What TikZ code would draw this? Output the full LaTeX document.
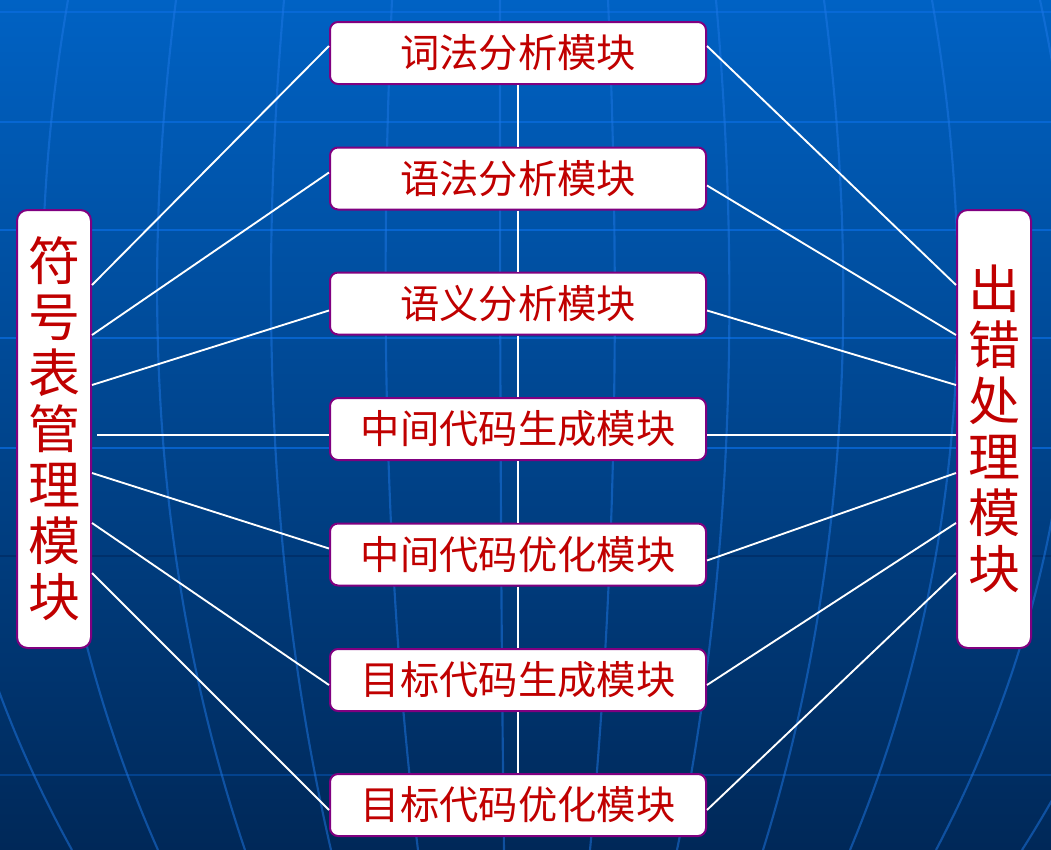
\documentclass[tikz,border=0pt]{standalone}
\usepackage{fontspec}
\newfontfamily\cjk{Noto Sans CJK SC}
\usetikzlibrary{calc}

\definecolor{bgtop}{RGB}{0,98,196}
\definecolor{bgbot}{RGB}{0,40,88}
\definecolor{gridblue}{RGB}{30,120,230}
\definecolor{latblue}{RGB}{10,108,222}
\definecolor{latdark}{RGB}{0,40,95}
\definecolor{boxline}{RGB}{128,0,128}
\definecolor{boxtext}{RGB}{192,0,0}

\tikzset{every picture/.style={line width=0.75pt}}
\tikzset{
  modbox/.style={draw=boxline, line width=1.5pt, fill=white, rounded corners=6pt, inner sep=0pt, text=boxtext, font=\cjk\fontsize{29.5}{32}\selectfont, minimum width=282pt, minimum height=46.5pt},
  sidebox/.style={modbox, rounded corners=8pt, minimum width=55.5pt, minimum height=328.5pt, align=center, font=\cjk\fontsize{39}{42}\selectfont},
  link/.style={draw=white, line width=1.4pt},
  meridian/.style={draw=gridblue, draw opacity=0.5, line width=1.6pt},
  latitude/.style={draw=latblue, draw opacity=0.75, line width=1.5pt}
}

\begin{document}
\begin{tikzpicture}[x=0.75pt,y=0.75pt,yscale=-1,xscale=1]
\useasboundingbox (0,0) rectangle (1051,850);

%Background
\shade [top color=bgtop, bottom color=bgbot] (0,0) rectangle (1051,850);
\begin{scope}
\clip (0,0) rectangle (1051,850);
%Latitudes
\draw [latitude] (0,12) -- (1051,12) ;
\draw [latitude] (0,122) -- (1051,122) ;
\draw [latitude] (0,230) -- (1051,230) ;
\draw [latitude] (0,338) -- (1051,338) ;
\draw [latitude] (0,448) -- (1051,448) ;
\draw [draw=latdark, draw opacity=0.6, line width=1.5pt] (0,556) -- (1051,556) ;
\draw [latitude, draw opacity=0.35] (0,775) -- (1051,775) ;
%Meridians
\draw [meridian] (-40,0) .. controls (-94,250) and (-94,550) .. (72,850) ;
\draw [meridian] (68,0) .. controls (25,250) and (25,550) .. (158,850) ;
\draw [meridian] (176,0) .. controls (144,250) and (144,550) .. (245,850) ;
\draw [meridian] (284,0) .. controls (262,250) and (262,550) .. (331,850) ;
\draw [meridian] (392,0) .. controls (381,250) and (381,550) .. (418,850) ;
\draw [meridian] (500,0) .. controls (500,250) and (500,550) .. (504,850) ;
\draw [meridian] (608,0) .. controls (619,250) and (619,550) .. (590,850) ;
\draw [meridian] (716,0) .. controls (738,250) and (738,550) .. (677,850) ;
\draw [meridian] (824,0) .. controls (856,250) and (856,550) .. (763,850) ;
\draw [meridian] (932,0) .. controls (975,250) and (975,550) .. (850,850) ;
\draw [meridian] (1040,0) .. controls (1094,250) and (1094,550) .. (936,850) ;
\draw [meridian] (1148,0) .. controls (1213,250) and (1213,550) .. (1022,850) ;
\end{scope}

% Side Nodes
\node [sidebox] (sym) at (54,429) {符\\号\\表\\管\\理\\模\\块};
\node [sidebox] (err) at (994,429) {出\\错\\处\\理\\模\\块};

% Module Nodes
\node [modbox] (lex) at (518,53) {词法分析模块};
\node [modbox] (syn) at (518,178.5) {语法分析模块};
\node [modbox] (sem) at (518,303.5) {语义分析模块};
\node [modbox] (icg) at (518,429) {中间代码生成模块};
\node [modbox] (opt) at (518,554.5) {中间代码优化模块};
\node [modbox] (tcg) at (518,680) {目标代码生成模块};
\node [modbox] (top) at (518,805) {目标代码优化模块};

%Straight Lines: module chain
\draw [link] (lex.south) -- (syn.north) ;
\draw [link] (syn.south) -- (sem.north) ;
\draw [link] (sem.south) -- (icg.north) ;
\draw [link] (icg.south) -- (opt.north) ;
\draw [link] (opt.south) -- (tcg.north) ;
\draw [link] (tcg.south) -- (top.north) ;

%Straight Lines: symbol table
\draw [link] ($(sym.east)+(0,-144)$) -- ($(lex.west)+(0,-7)$) ;
\draw [link] ($(sym.east)+(0,-94)$) -- ($(syn.west)+(0,-6)$) ;
\draw [link] ($(sym.east)+(0,-44)$) -- ($(sem.west)+(0,7)$) ;
\draw [link] ($(sym.east)+(5,6)$) -- ($(icg.west)+(0,6)$) ;
\draw [link] ($(sym.east)+(0,44)$) -- ($(opt.west)+(0,-6)$) ;
\draw [link] ($(sym.east)+(0,94)$) -- ($(tcg.west)+(0,5)$) ;
\draw [link] ($(sym.east)+(0,144)$) -- ($(top.west)+(0,5)$) ;

%Straight Lines: error handling
\draw [link] ($(lex.east)+(0,-7)$) -- ($(err.west)+(0,-144)$) ;
\draw [link] ($(syn.east)+(0,7)$) -- ($(err.west)+(0,-94)$) ;
\draw [link] ($(sem.east)+(0,7)$) -- ($(err.west)+(0,-44)$) ;
\draw [link] ($(icg.east)+(0,6)$) -- ($(err.west)+(0,6)$) ;
\draw [link] ($(opt.east)+(0,6)$) -- ($(err.west)+(0,44)$) ;
\draw [link] ($(tcg.east)+(0,5)$) -- ($(err.west)+(0,94)$) ;
\draw [link] ($(top.east)+(0,5)$) -- ($(err.west)+(0,144)$) ;

\end{tikzpicture}
\end{document}
